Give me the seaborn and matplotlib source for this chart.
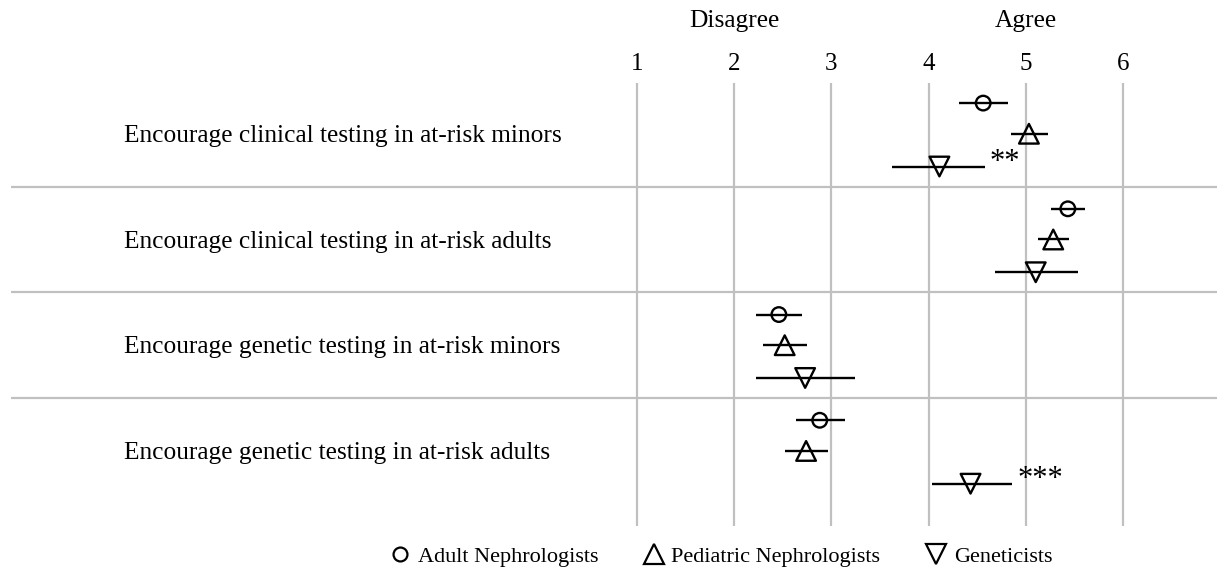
import pandas as pd
import matplotlib
matplotlib.use("Agg")
import matplotlib.pyplot as plt
from matplotlib.lines import Line2D
import seaborn as sns

# ---- data ----
items = [
    "Encourage clinical testing in at-risk minors",
    "Encourage clinical testing in at-risk adults",
    "Encourage genetic testing in at-risk minors",
    "Encourage genetic testing in at-risk adults",
]
groups = ["Adult Nephrologists", "Pediatric Nephrologists", "Geneticists"]

adult_mean = [4.56, 5.43, 2.46, 2.88]
adult_lo = [4.31, 5.26, 2.22, 2.64]
adult_hi = [4.81, 5.61, 2.70, 3.14]

peds_mean = [5.03, 5.28, 2.52, 2.74]
peds_lo = [4.85, 5.12, 2.30, 2.52]
peds_hi = [5.23, 5.44, 2.75, 2.96]

genet_mean = [4.11, 5.10, 2.73, 4.43]
genet_lo = [3.62, 4.68, 2.23, 4.03]
genet_hi = [4.58, 5.53, 3.24, 4.86]

genet_sig = ["**", "", "", "***"]

scale_ticks = [1, 2, 3, 4, 5, 6]
anchor_labels = {2: "Disagree", 5: "Agree"}

# ---- styling ----
offsets = {"Adult Nephrologists": -0.29, "Pediatric Nephrologists": 0.0, "Geneticists": 0.31}
markers = {"Adult Nephrologists": "o", "Pediatric Nephrologists": "^", "Geneticists": "v"}
sizes = {"Adult Nephrologists": 110, "Pediatric Nephrologists": 200, "Geneticists": 200}
grid_color = "#c0c0c0"

rows = []
for name, m, lo, hi in [
    (groups[0], adult_mean, adult_lo, adult_hi),
    (groups[1], peds_mean, peds_lo, peds_hi),
    (groups[2], genet_mean, genet_lo, genet_hi),
]:
    for i, item in enumerate(items):
        rows.append({"item": item, "row": i, "group": name, "mean": m[i], "lo": lo[i], "hi": hi[i]})
df = pd.DataFrame(rows)
df["y"] = df["row"] + df["group"].map(offsets)

sns.set_theme(style="white")
plt.rcParams["font.family"] = ["Liberation Serif", "DejaVu Serif"]
plt.rcParams["text.color"] = "black"
plt.rcParams["xtick.color"] = "black"
plt.rcParams["xtick.labelcolor"] = "black"

fig = plt.figure(figsize=(12.17, 5.71), dpi=100)
ax = fig.add_axes([11 / 1217, 1 - 526 / 571, 1 - 11 / 1217, (526 - 83) / 571])

px_per_unit = (1123.3 - 636.8) / 5
ax.set_xlim(1 + (11 - 636.8) / px_per_unit, 1 + (1217 - 636.8) / px_per_unit)
ax.set_ylim(3.71, -0.48)

# error bars first so the open markers sit on top
ax.hlines(df["y"], df["lo"], df["hi"], color="black", lw=1.7, zorder=2)

for g in groups:
    sns.scatterplot(
        data=df[df["group"] == g], x="mean", y="y", marker=markers[g], s=sizes[g],
        color="black", facecolor="none", edgecolor="black", linewidth=1.7,
        zorder=3, ax=ax, legend=False,
    )

# significance stars after the geneticist bars
gsub = df[df["group"] == "Geneticists"].reset_index(drop=True)
for i, star in enumerate(genet_sig):
    if star:
        ax.text(gsub.loc[i, "hi"] + 0.05, gsub.loc[i, "y"] - 0.04, star,
                fontsize=22, ha="left", va="center")

# row separators
for b in [0.5, 1.5, 2.5]:
    ax.axhline(b, color=grid_color, lw=1.6, zorder=1)

# vertical scale lines
ax.set_xticks(scale_ticks)
ax.set_xticklabels([str(t) for t in scale_ticks], fontsize=18)
ax.xaxis.tick_top()
ax.tick_params(axis="x", length=0, pad=6, labelcolor="black")
ax.grid(axis="x", color=grid_color, lw=1.6)
ax.grid(axis="y", visible=False)
ax.set_yticks([])
ax.set_xlabel("")
ax.set_ylabel("")
for s in ax.spines.values():
    s.set_visible(False)

for x, lab in anchor_labels.items():
    ax.text(x, 1.14, lab, transform=ax.get_xaxis_transform(), fontsize=18.3,
            ha="center", va="center")

# item labels on the left
x0 = 1 + (124 - 636.8) / px_per_unit
for i, item in enumerate(items):
    ax.text(x0, i + 0.02, item, fontsize=18.3, ha="left", va="center")

handles = [
    Line2D([], [], marker=markers[g], linestyle="none", markerfacecolor="none",
           markeredgecolor="black", markeredgewidth=1.6,
           markersize=10 if markers[g] == "o" else 14)
    for g in groups
]
fig.legend(handles, groups, loc="center", bbox_to_anchor=(0.592, 1 - 557 / 571), ncol=3,
           frameon=False, fontsize=16, handlelength=1.0, handletextpad=0.3,
           columnspacing=2.0)

fig.savefig("out.png", dpi=100)
